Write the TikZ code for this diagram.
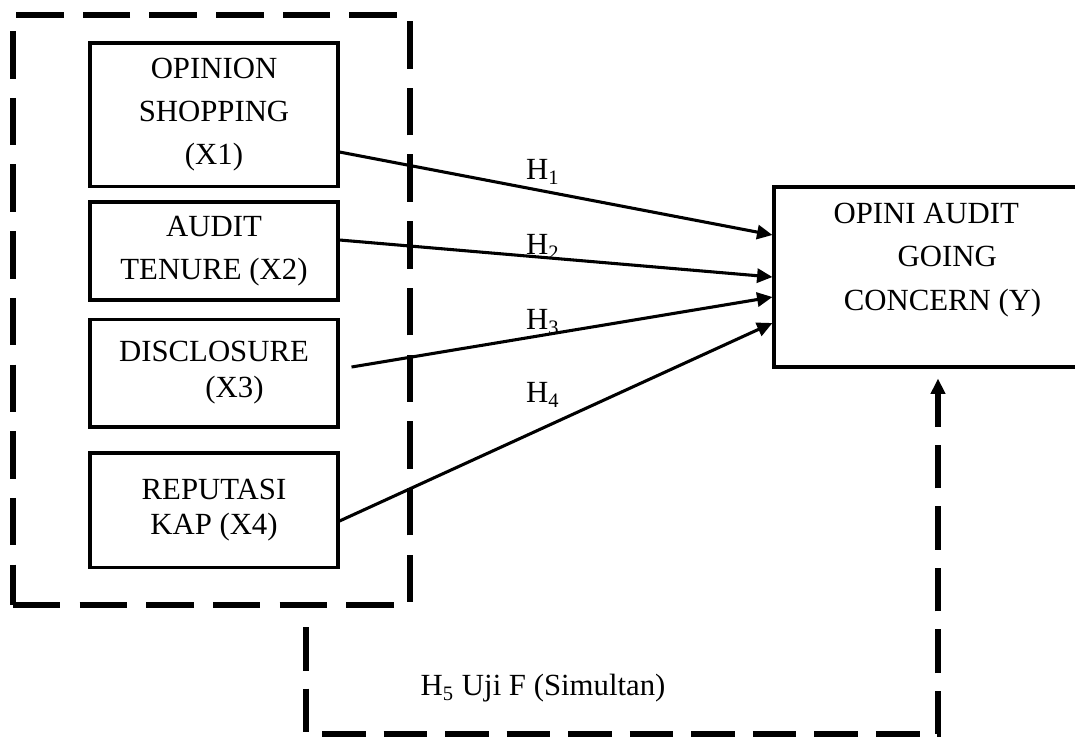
\documentclass[tikz,border=0pt]{standalone}
\usepackage{fontspec}
\setmainfont{Liberation Serif}
\usetikzlibrary{arrows.meta, positioning, calc}

\begin{document}
\begin{tikzpicture}[
    x=0.39pt, y=-0.39pt,
    >={Triangle[length=6pt,width=5.5pt]},
    line width=1.2pt,
    every node/.style={font=\fontsize{12}{16.8}\selectfont},  % Times-like text
]

% Styles for boxes and dashed lines
\tikzset{
    varbox/.style={
        draw,
        align=center,
        minimum width=96.7pt,
        inner sep=2pt,
    },
    groupbox/.style={
        draw,
        line width=2pt,
        dash pattern=on 18.5pt off 7.5pt,
        minimum width=154.8pt,
        minimum height=230.1pt,
    },
    simline/.style={
        line width=2pt,
        dash pattern=on 17pt off 7pt,
    },
    hlabel/.style={inner sep=0pt},
}

\useasboundingbox (0,0) rectangle (1075,736);

% Dashed group around the independent variables
\node[groupbox] (group) at (211.5,310) {};

% Independent variables (X1 - X4)
\node[varbox, minimum height=55.8pt] (X1) at (214,114.5) {OPINION\\SHOPPING\\(X1)};
\node[varbox, minimum height=38.2pt] (X2) at (214,251) {AUDIT\\TENURE (X2)};
\node[varbox, minimum height=42.1pt, font=\fontsize{12}{14}\selectfont] (X3) at (214,373) {DISCLOSURE\\\hspace*{16pt}(X3)};
\node[varbox, minimum height=44.5pt, font=\fontsize{12}{13.7}\selectfont] (X4) at (214,510) {REPUTASI\\KAP (X4)};

% Dependent variable (Y)
\node[draw, minimum width=117.8pt, minimum height=70.2pt] (Y) at (925,277) {};
\node[inner sep=0pt, align=left, anchor=west] (Ytext) at (832,260) {OPINI AUDIT\\\hspace*{25pt}GOING\\\hspace*{4pt}CONCERN (Y)};

% Partial hypotheses
\draw[->] ($(X1.east)+(0,37.5)$) -- ($(Y.west)+(0,-42)$);
\draw[->] ($(X2.east)+(0,-11)$) -- (Y.west);
\draw[->] ($(X3.east)+(12,-6)$) -- ($(Y.west)+(0,20)$);
\draw[->] ($(X4.east)+(0,11)$) -- ($(Y.west)+(0,46)$);

\node[hlabel] (h1) at (543,172) {H\textsubscript{1}};
\node[hlabel] (h2) at (543,247) {H\textsubscript{2}};
\node[hlabel] (h3) at (543,322) {H\textsubscript{3}};
\node[hlabel] (h4) at (543,395) {H\textsubscript{4}};

% Simultaneous hypothesis (dashed path back up to Y)
\coordinate (h5start) at (306,627);
\coordinate (h5corner) at (938,734);
\draw[simline, ->, shorten >=3.9pt] (h5start) |- (h5corner) -- (h5corner |- Y.south);
\node[hlabel, anchor=west] (h5) at (419,688) {H\textsubscript{5} Uji F (Simultan)};

\end{tikzpicture}
\end{document}
